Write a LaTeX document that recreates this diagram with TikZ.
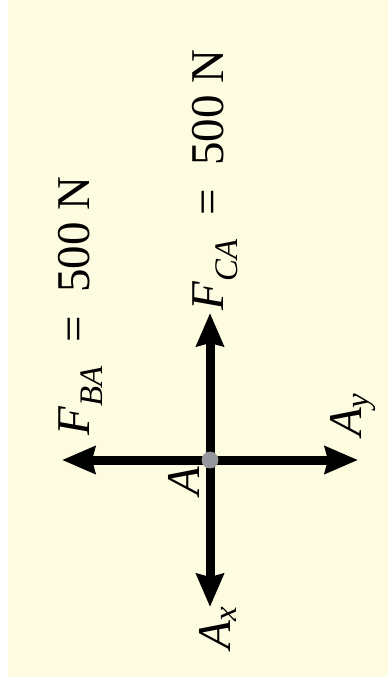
\documentclass[tikz,border=0pt]{standalone}
\usepackage{fontspec}
\setmainfont{Liberation Serif}
\usetikzlibrary{arrows.meta}
\definecolor{paper}{RGB}{253,251,224}
\definecolor{dotgray}{RGB}{150,150,158}
\tikzset{
  force/.style={line width=9pt, -{Stealth[length=33pt,width=27pt,inset=3pt]}},
  lbl/.style={rotate=90, inner sep=0pt, font=\fontsize{47}{50}\selectfont},
}
\begin{document}
\begin{tikzpicture}[x=1pt, y=-1pt]
\useasboundingbox (0,0) rectangle (388,688);
% background
\fill[white] (0,0) rectangle (388,688);
\fill[paper] (8,0) rectangle (388,677);
% point A and arrow tips
\coordinate (A) at (210,460);
\coordinate (tipBA) at (62,460);
\coordinate (tipAy) at (358,460);
\coordinate (tipCA) at (210,313);
\coordinate (tipAx) at (210,607);
% forces
\draw[force] (A) -- (tipBA);
\draw[force] (A) -- (tipAy);
\draw[force] (A) -- (tipCA);
\draw[force] (A) -- (tipAx);
\filldraw[fill=dotgray, draw=gray!80, line width=0.8pt] (A) circle (8);
% labels
\node[lbl] (lBA) at (80,306) {\itshape F\textsubscript{BA}\upshape\ \ = \ 500 N};
\node[lbl] (lCA) at (215,180) {\itshape F\textsubscript{CA}\upshape\ \ = \ 500 N};
\node[lbl] (lA) at (184,481) {\itshape A};
\node[lbl] (lAy) at (353,415) {\itshape A\textsubscript{y}};
\node[lbl] (lAx) at (218,628) {\itshape A\textsubscript{x}};
\end{tikzpicture}
\end{document}
